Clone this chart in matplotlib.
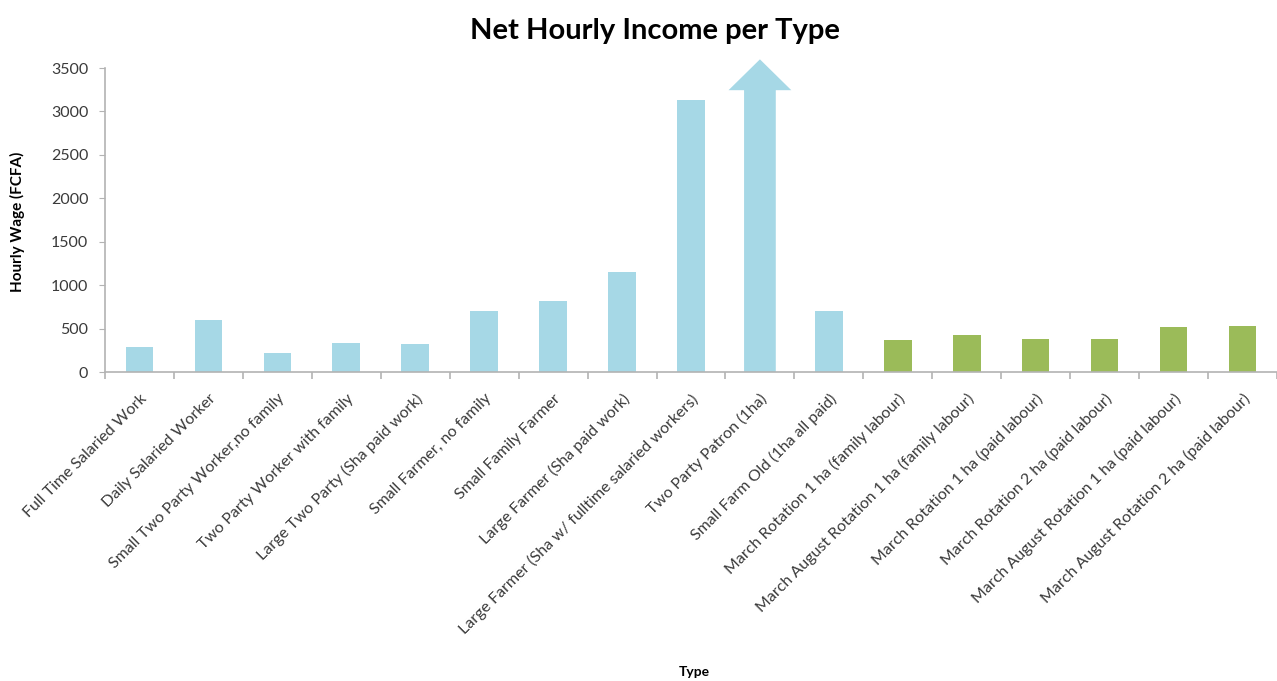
import matplotlib
matplotlib.use("Agg")
import matplotlib.pyplot as plt
from matplotlib.patches import FancyArrow
import numpy as np

plt.rcParams['font.family'] = ['Lato', 'DejaVu Sans']

categories = [
    "Full Time Salaried Work",
    "Daily Salaried Worker",
    "Small Two Party Worker,no family",
    "Two Party Worker with family",
    "Large Two Party (Sha paid work)",
    "Small Farmer, no family",
    "Small Family Farmer",
    "Large Farmer (Sha paid work)",
    "Large Farmer (Sha w/ fulltime salaried workers)",
    "Two Party Patron (1ha)",
    "Small Farm Old (1ha all paid)",
    "March Rotation 1 ha (family labour)",
    "March August Rotation 1 ha (family labour)",
    "March Rotation 1 ha (paid labour)",
    "March Rotation 2 ha (paid labour)",
    "March August Rotation 1 ha (paid labour)",
    "March August Rotation 2 ha (paid labour)",
]
wages = [290, 600, 220, 330, 320, 700, 820, 1150, 3130, 3600, 700,
         370, 430, 375, 385, 520, 530]
# the off-scale category is shown as an arrow instead of a bar
arrow_category = "Two Party Patron (1ha)"
rotation_group = [False] * 11 + [True] * 6

blue = "#a6d8e6"
green = "#9bbb59"
axis_gray = "#b3b3b3"
text_color = "#3a3a3a"

fig = plt.figure(figsize=(12.77, 6.81), dpi=100)
ax = fig.add_axes([0.0822, 0.4537, 0.9178, 0.4464])

x = np.arange(len(categories))
for xi, name, val, grp in zip(x, categories, wages, rotation_group):
    color = green if grp else blue
    if name == arrow_category:
        arrow = FancyArrow(xi, 0, 0, val, width=0.46, head_width=0.91,
                           head_length=355, length_includes_head=True,
                           color=color, linewidth=0, clip_on=False)
        ax.add_patch(arrow)
    else:
        ax.bar(xi, val, width=0.4, color=color, linewidth=0)

ax.set_xlim(-0.5, len(categories) - 0.5)
ax.set_ylim(0, 3500)
ax.set_yticks(np.arange(0, 3501, 500))

for side in ("top", "right"):
    ax.spines[side].set_visible(False)
for side in ("left", "bottom"):
    ax.spines[side].set_color(axis_gray)
    ax.spines[side].set_linewidth(1.2)

ax.tick_params(axis='y', length=4, color=axis_gray, labelsize=11.5,
               labelcolor=text_color, pad=8)
ax.set_xticks(x)
ax.set_xticklabels(categories, rotation=45, ha='right',
                   rotation_mode='anchor', fontsize=11.5, color=text_color)
ax.tick_params(axis='x', which='major', length=0, pad=14)
ax.set_xticks(np.arange(-0.5, len(categories), 1.0), minor=True)
ax.tick_params(axis='x', which='minor', length=5, color=axis_gray, width=1.2)

fig.text(0.513, 0.955, "Net Hourly Income per Type", ha='center', va='center',
         fontsize=21, fontweight='bold', color='black')
fig.text(0.014, 0.675, "Hourly Wage (FCFA)", ha='center', va='center',
         rotation=90, fontsize=11, fontweight='bold', color='black')
fig.text(0.544, 0.013, "Type", ha='center', va='center',
         fontsize=10, fontweight='bold', color='black')

fig.savefig("out.png", dpi=100)
